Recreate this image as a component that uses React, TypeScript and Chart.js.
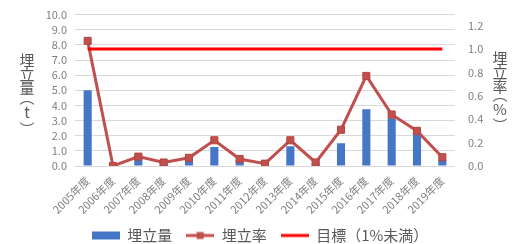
import React, { useEffect, useRef } from "react";
import { Chart, registerables } from "chart.js";

Chart.register(...registerables);

const categories = [
  "2005年度", "2006年度", "2007年度", "2008年度", "2009年度", "2010年度", "2011年度", "2012年度",
  "2013年度", "2014年度", "2015年度", "2016年度", "2017年度", "2018年度", "2019年度",
];
const landfillTons = [5.0, 0.0, 0.7, 0.2, 0.6, 1.25, 0.4, 0.1, 1.3, 0.2, 1.5, 3.75, 3.15, 2.3, 0.4];
const landfillRate = [1.07, 0.0, 0.08, 0.03, 0.07, 0.22, 0.06, 0.02, 0.22, 0.03, 0.31, 0.77, 0.44, 0.3, 0.075];
const targetRate = categories.map(() => 1.0);
const leftTicks = [0, 1, 2, 3, 4, 5, 6, 7, 8, 9, 10];
const rightTicks = [0, 0.2, 0.4, 0.6, 0.8, 1.0, 1.2];
const legendLabels = ["埋立量", "埋立率", "目標（1%未満）"];
const leftTitle = ["埋", "立", "量", "︵", "t", "︶"];
const rightTitle = ["埋", "立", "率", "︵", "%", "︶"];

const BLUE = "#4477c6";
const ROSE = "#c0504d";
const RED = "#ff0000";
const TEXT = "#595959";
const TICK = "#7f7f7f";
const FONT = "'Noto Sans CJK JP', 'Noto Sans', sans-serif";

function swatch(kind: string): HTMLCanvasElement {
  const c = document.createElement("canvas");
  c.width = 28;
  c.height = 10;
  const g = c.getContext("2d")!;
  if (kind === "bar") {
    g.fillStyle = BLUE;
    g.fillRect(0, 1, 28, 8);
  } else if (kind === "rate") {
    g.strokeStyle = ROSE;
    g.lineWidth = 3;
    g.beginPath();
    g.moveTo(0, 5);
    g.lineTo(28, 5);
    g.stroke();
    g.fillStyle = ROSE;
    g.fillRect(10.5, 1.5, 7, 7);
  } else {
    g.strokeStyle = RED;
    g.lineWidth = 3;
    g.beginPath();
    g.moveTo(0, 5);
    g.lineTo(28, 5);
    g.stroke();
  }
  return c;
}

const verticalTitles = {
  id: "verticalTitles",
  afterLayout(chart: any) {
    const lg = chart.legend;
    if (lg) {
      lg.top += 9;
      lg.bottom += 9;
    }
    const xs = chart.scales.x;
    if (xs) xs.bottom += 25;
  },
  afterDraw(chart: any) {
    const ctx = chart.ctx as CanvasRenderingContext2D;
    const drawCol = (chars: string[], x: number, ys: number[]) => {
      ctx.save();
      ctx.fillStyle = TEXT;
      ctx.font = `15px ${FONT}`;
      ctx.textAlign = "center";
      ctx.textBaseline = "middle";
      chars.forEach((ch, i) => ctx.fillText(ch, x, ys[i]));
      ctx.restore();
    };
    drawCol(leftTitle, 27, [60, 74, 88, 97, 112, 129]);
    drawCol(rightTitle, 500, [58, 72, 86, 94, 109, 125]);
  },
};

export default function App() {
  const ref = useRef<HTMLCanvasElement | null>(null);
  useEffect(() => {
    document.body.style.margin = "0";
    const canvas = ref.current!;
    const swatches = [swatch("bar"), swatch("rate"), swatch("target")];
    const chart = new Chart(canvas, {
      type: "bar",
      data: {
        labels: categories,
        datasets: [
          {
            type: "bar",
            label: legendLabels[0],
            data: landfillTons,
            backgroundColor: BLUE,
            yAxisID: "y",
            barPercentage: 0.4,
            categoryPercentage: 0.8,
            order: 2,
          },
          {
            type: "line",
            label: legendLabels[1],
            data: landfillRate,
            borderColor: ROSE,
            backgroundColor: ROSE,
            borderWidth: 3,
            pointStyle: "rect",
            pointRadius: 5,
            pointBorderWidth: 1,
            pointBorderColor: "#b5443f",
            pointBackgroundColor: ROSE,
            yAxisID: "y1",
            order: 1,
          } as any,
          {
            type: "line",
            label: legendLabels[2],
            data: targetRate,
            borderColor: RED,
            borderWidth: 3,
            pointRadius: 0,
            yAxisID: "y1",
            order: 0,
          } as any,
        ],
      },
      options: {
        responsive: false,
        animation: false,
        layout: { padding: { top: 11, left: 0, right: 0, bottom: 0 } },
        plugins: {
          tooltip: { enabled: false },
          legend: {
            position: "bottom",
            labels: {
              usePointStyle: true,
              pointStyleWidth: 28,
              color: TEXT,
              font: { family: FONT, size: 15 },
              padding: 14,
              generateLabels: () =>
                legendLabels.map((t, i) => ({
                  text: t,
                  pointStyle: swatches[i],
                  fillStyle: "transparent",
                  strokeStyle: "transparent",
                  lineWidth: 0,
                  hidden: false,
                  datasetIndex: i,
                  fontColor: TEXT,
                })),
            },
          },
        },
        scales: {
          x: {
            grid: { display: false },
            border: { display: false },
            ticks: {
              color: TICK,
              font: { family: FONT, size: 11 },
              minRotation: 45,
              maxRotation: 45,
              autoSkip: false,
              padding: 0,
            },
            afterFit: (s: any) => {
              s.height = 39;
            },
          },
          y: {
            position: "left",
            min: 0,
            max: 10,
            grid: { color: "#d9d9d9", lineWidth: 1, drawTicks: false },
            border: { display: false },
            afterBuildTicks: (s: any) => {
              s.ticks = leftTicks.map((v) => ({ value: v }));
            },
            ticks: {
              color: TICK,
              font: { family: FONT, size: 11 },
              padding: 8,
              autoSkip: false,
              callback: (v: any) => Number(v).toFixed(1),
            },
            afterFit: (s: any) => {
              s.width = 75;
            },
          },
          y1: {
            position: "right",
            min: 0,
            max: (1.2 * 151) / 140,
            grid: { display: false },
            border: { display: false },
            afterBuildTicks: (s: any) => {
              s.ticks = rightTicks.map((v) => ({ value: v }));
            },
            ticks: {
              color: TICK,
              font: { family: FONT, size: 11 },
              padding: 5,
              autoSkip: false,
              callback: (v: any) => Number(v).toFixed(1),
            },
            afterFit: (s: any) => {
              s.width = 65;
            },
          },
        },
      },
      plugins: [verticalTitles],
    });
    return () => chart.destroy();
  }, []);
  return (
    <div style={{ width: 520, height: 244, background: "#fff" }}>
      <canvas ref={ref} width={520} height={244} />
    </div>
  );
}
